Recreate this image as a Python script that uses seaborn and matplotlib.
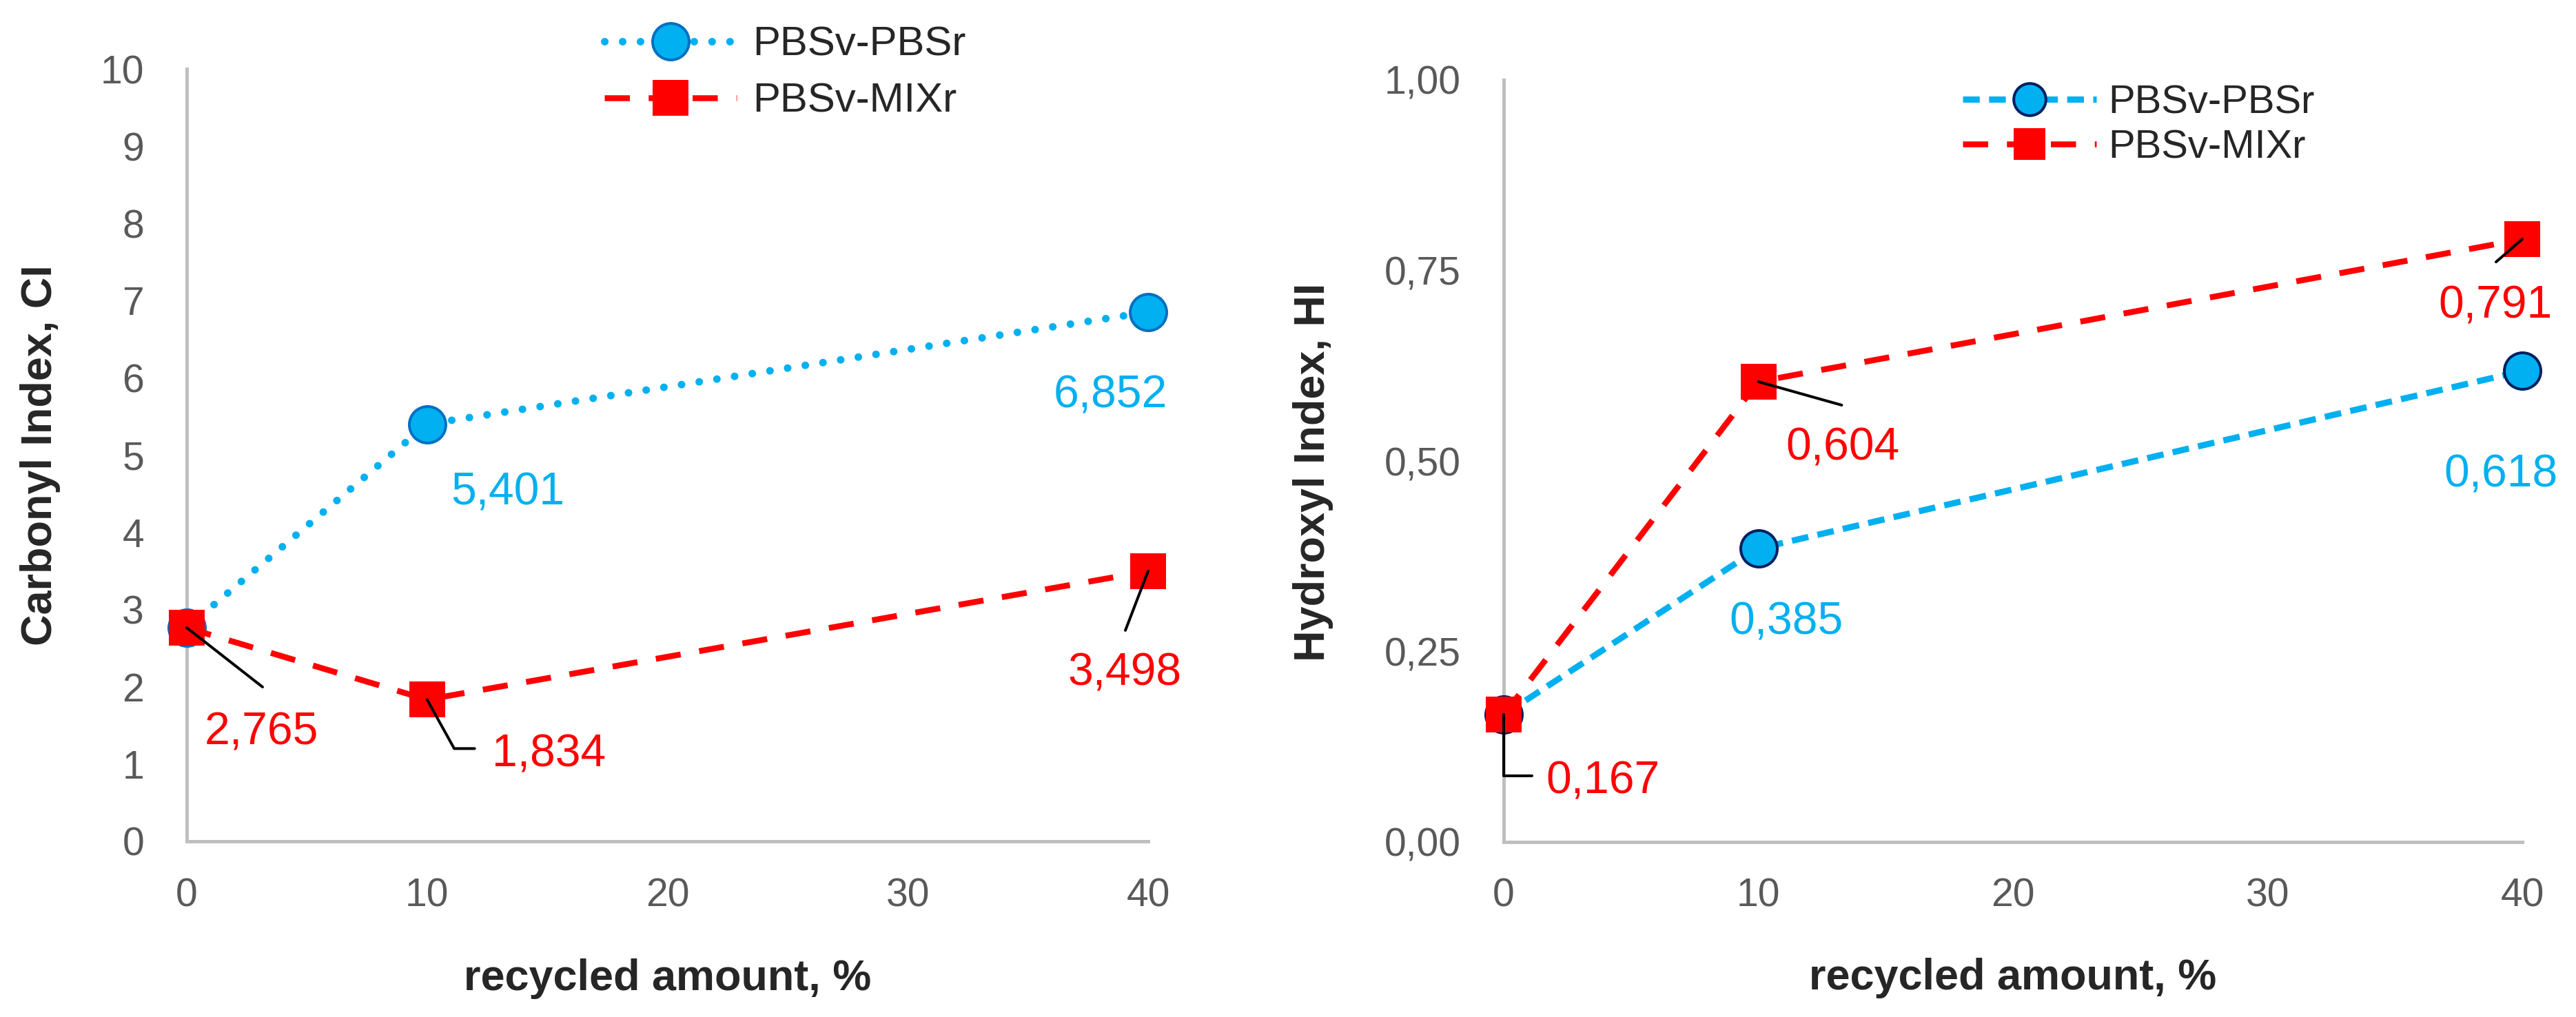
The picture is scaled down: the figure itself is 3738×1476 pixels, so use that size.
import matplotlib
matplotlib.use("Agg")
import matplotlib.pyplot as plt
import pandas as pd
import seaborn as sns

# ---------- data ----------
recycled = [0, 10, 40]
ci_pbs = [2.765, 5.401, 6.852]
ci_mix = [2.765, 1.834, 3.498]
hi_pbs = [0.167, 0.385, 0.618]
hi_mix = [0.167, 0.604, 0.791]

x_ticks = [0, 10, 20, 30, 40]
ci_ticks = list(range(0, 11))
hi_ticks = [0.0, 0.25, 0.5, 0.75, 1.0]
hi_tick_labels = ["0,00", "0,25", "0,50", "0,75", "1,00"]

series_names = ["PBSv-PBSr", "PBSv-MIXr"]

BLUE = "#00B0F0"
RED = "#FF0000"
GREY = "#BFBFBF"
TICK_COL = "#595959"

sns.set_style("white")
plt.rcParams["font.family"] = ["Liberation Sans", "DejaVu Sans"]

DPI = 72
f = plt.figure(figsize=(3738 / DPI, 1476 / DPI), dpi=DPI)
ax1 = f.add_axes([271 / 3738, 1 - 1221 / 1476, 1395 / 3738, 1121 / 1476])
ax2 = f.add_axes([2182 / 3738, 1 - 1222 / 1476, 1478 / 3738, 1106 / 1476])


def fmt(v):
    return f"{v:.3f}".replace(".", ",")


def draw(ax, df_pbs, df_mix, blue_ls, blue_lw, blue_cap, blue_edge, red_ls):
    sns.lineplot(data=df_pbs, x="x", y="y", ax=ax, color=BLUE, linestyle=blue_ls,
                 linewidth=blue_lw, dash_capstyle=blue_cap, marker="o", markersize=53,
                 markerfacecolor=BLUE, markeredgecolor=blue_edge, markeredgewidth=4,
                 label=series_names[0], clip_on=False, zorder=3)
    sns.lineplot(data=df_mix, x="x", y="y", ax=ax, color=RED, linestyle=red_ls,
                 linewidth=8.5, marker="s", markersize=52, markerfacecolor=RED,
                 markeredgewidth=0, label=series_names[1], clip_on=False, zorder=4)


def style_axes(ax, ylabel, label_x, label_y):
    ax.set_xlim(0, 40)
    ax.set_xticks(x_ticks)
    for side in ["top", "right"]:
        ax.spines[side].set_visible(False)
    for side in ["left", "bottom"]:
        ax.spines[side].set_color(GREY)
        ax.spines[side].set_linewidth(5)
    ax.tick_params(axis="both", length=0, labelsize=57, labelcolor=TICK_COL)
    ax.tick_params(axis="y", pad=62)
    ax.tick_params(axis="x", pad=52)
    ax.set_xlabel("recycled amount, %", fontsize=63, fontweight="bold")
    ax.set_ylabel(ylabel, fontsize=63, fontweight="bold")
    ax.xaxis.set_label_coords(0.5, -0.152)
    ax.yaxis.set_label_coords(label_x, label_y)


def label(ax, v, xv, yv, dx, dy, color, leader=None, angle=None):
    ax.annotate(fmt(v), xy=(xv, yv), xytext=(dx, dy), textcoords="offset points",
                ha="center", va="baseline", fontsize=66, color=color, zorder=6)
    if leader is not None:
        cs = "arc3" if angle is None else f"angle,angleA=0,angleB={angle},rad=0"
        ax.annotate("", xy=(xv, yv), xytext=leader, textcoords="offset points",
                    arrowprops=dict(arrowstyle="-", color="black", lw=4,
                                    shrinkA=0, shrinkB=0, connectionstyle=cs),
                    zorder=5)


# ---------- left: carbonyl index ----------
draw(ax1,
     pd.DataFrame({"x": recycled, "y": ci_pbs}),
     pd.DataFrame({"x": recycled, "y": ci_mix}),
     (0, (0.01, 2.35)), 11, "round", "#0070C0", (0, (4.3, 3.2)))
ax1.set_ylim(0, 10)
ax1.set_yticks(ci_ticks)
style_axes(ax1, "Carbonyl Index, CI", -0.131, 0.5)
ax1.legend(loc="center left", bbox_to_anchor=(877 / 3738, 1 - 106 / 1476),
           bbox_transform=f.transFigure, frameon=False, fontsize=60,
           borderpad=0, borderaxespad=0, handlelength=3.2, handletextpad=0.38,
           labelspacing=0.45, numpoints=1)

label(ax1, ci_pbs[1], recycled[1], ci_pbs[1], 117, -117, BLUE)
label(ax1, ci_pbs[2], recycled[2], ci_pbs[2], -55, -139, BLUE)
label(ax1, ci_mix[0], recycled[0], ci_mix[0], 108, -169, RED, leader=(110, -86))
label(ax1, ci_mix[1], recycled[1], ci_mix[1], 177, -97, RED, leader=(69, -71), angle=-61)
label(ax1, ci_mix[2], recycled[2], ci_mix[2], -34, -166, RED, leader=(-33, -86))

# ---------- right: hydroxyl index ----------
draw(ax2,
     pd.DataFrame({"x": recycled, "y": hi_pbs}),
     pd.DataFrame({"x": recycled, "y": hi_mix}),
     (0, (2.7, 1.5)), 9, "butt", "#002060", (0, (4.3, 3.2)))
ax2.set_ylim(0, 1)
ax2.set_yticks(hi_ticks)
ax2.set_yticklabels(hi_tick_labels)
style_axes(ax2, "Hydroxyl Index, HI", -0.167, 0.485)
ax2.legend(loc="center left", bbox_to_anchor=(2848 / 3738, 1 - 182 / 1476),
           bbox_transform=f.transFigure, frameon=False, fontsize=58,
           borderpad=0, borderaxespad=0, handlelength=3.35, handletextpad=0.3,
           labelspacing=0.2, numpoints=1, markerscale=0.88)

label(ax2, hi_mix[1], recycled[1], hi_mix[1], 122, -114, RED, leader=(121, -34))
label(ax2, hi_pbs[1], recycled[1], hi_pbs[1], 41, -124, BLUE)
label(ax2, hi_mix[0], recycled[0], hi_mix[0], 144, -114, RED, leader=(41, -89), angle=90)
label(ax2, hi_mix[2], recycled[2], hi_mix[2], -39, -114, RED, leader=(-38, -33))
label(ax2, hi_pbs[2], recycled[2], hi_pbs[2], -31, -168, BLUE)

plt.savefig("out.png", dpi=DPI)
